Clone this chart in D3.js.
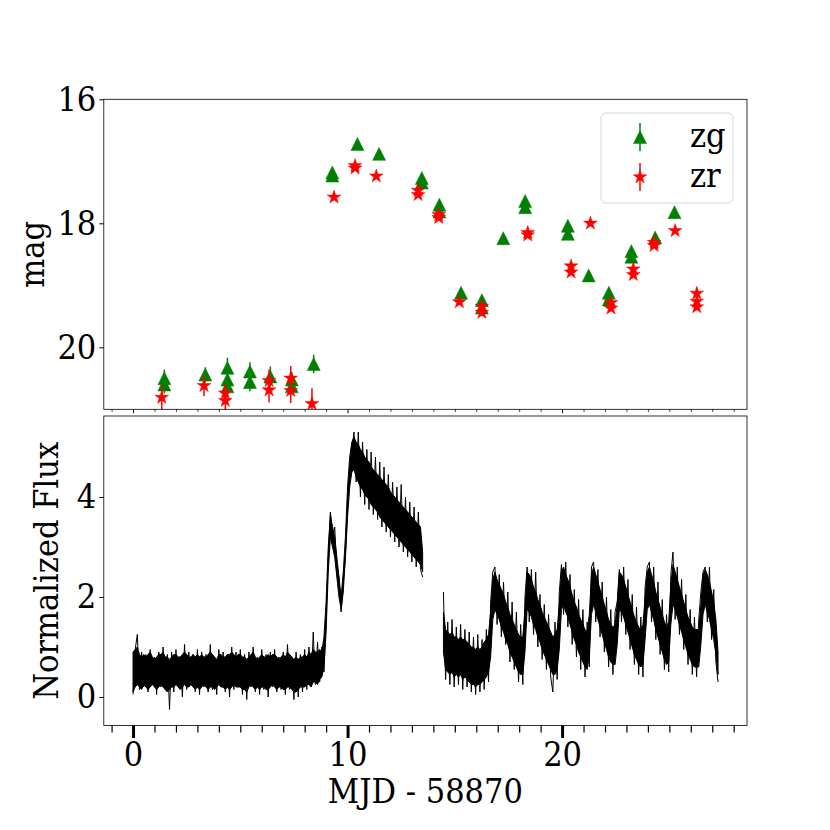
<!DOCTYPE html>
<html>
<head>
<meta charset="utf-8">
<script src="https://cdn.jsdelivr.net/npm/d3@7"></script>
<style>
body { margin: 0; background: #fff; }
text { font-family: "DejaVu Serif Condensed", "DejaVu Serif", serif; font-stretch: condensed; fill: #000; }
</style>
</head>
<body>
<script>
// ZTF photometry (MJD - 58870)
var zgTime = [1.46, 1.46, 3.37, 4.40, 4.40, 4.40, 5.45, 5.45, 6.40, 7.40, 7.40, 8.42,
    9.29, 9.29, 10.46, 11.47, 13.46, 13.46, 14.28, 14.28, 15.29, 16.26, 16.26, 17.26,
    18.28, 18.28, 20.27, 20.27, 21.24, 22.18, 22.18, 23.23, 23.23, 24.34, 25.24];
var zgMag = [20.50, 20.60, 20.44, 20.33, 20.52, 20.63, 20.39, 20.56, 20.47, 20.52, 20.63, 20.27,
    17.18, 17.23, 16.72, 16.88, 17.27, 17.34, 17.70, 17.81, 19.12, 19.24, 19.36, 18.24,
    17.64, 17.74, 18.04, 18.17, 18.84, 19.12, 19.23, 18.45, 18.54, 18.23, 17.82];
var zgErr = [0.14, 0.14, 0.12, 0.16, 0.14, 0.14, 0.15, 0.15, 0.16, 0.12, 0.12, 0.15,
    0.03, 0.03, 0.02, 0.02, 0.03, 0.03, 0.03, 0.03, 0.04, 0.04, 0.04, 0.03,
    0.03, 0.03, 0.03, 0.03, 0.03, 0.04, 0.04, 0.03, 0.03, 0.03, 0.03];

var zrTime = [1.34, 3.31, 4.30, 4.30, 6.34, 6.34, 7.35, 7.35, 8.34, 9.37, 10.35, 10.35,
    11.34, 13.29, 13.29, 14.25, 14.25, 15.21, 16.26, 16.26, 18.40, 18.40, 20.42, 20.42,
    21.32, 22.28, 22.28, 23.32, 23.32, 24.29, 24.29, 25.27, 26.28, 26.28, 26.28];
var zrMag = [20.81, 20.62, 20.74, 20.86, 20.54, 20.69, 20.50, 20.70, 20.91, 17.58, 17.07, 17.11,
    17.24, 17.47, 17.54, 17.86, 17.91, 19.27, 19.34, 19.44, 18.15, 18.19, 18.69, 18.79,
    18.00, 19.28, 19.37, 18.74, 18.83, 18.31, 18.36, 18.12, 19.13, 19.26, 19.35];
var zrErr = [0.2, 0.17, 0.15, 0.18, 0.18, 0.2, 0.2, 0.2, 0.25, 0.03, 0.02, 0.02,
    0.02, 0.03, 0.03, 0.03, 0.03, 0.04, 0.05, 0.05, 0.03, 0.03, 0.04, 0.04,
    0.03, 0.05, 0.05, 0.04, 0.04, 0.03, 0.03, 0.03, 0.05, 0.05, 0.05];

// TESS normalized flux, one reading every 0.1 d, two orbits.
// tessFlux: individual readings (spiky), tessLo/tessHi: dense core of the scatter
var tessStep = 0.1;
var tessStart1 = 0;
var tessFlux1 = [
    0.05, 0.95, 1.25, 0.15, 0.9, 0.2, 0.85, 0.1, 0.95, 0.25,
    0.8, 0.05, 0.9, 0.2, 1.0, 0.15, 0.85, -0.25, 0.9, 0.1,
    0.95, 0.2, 0.8, 0.0, 1.05, 0.15, 0.9, 0.25, 0.85, 0.1,
    0.95, 0.05, 0.9, 0.2, 0.85, 0.1, 1.05, 0.15, 0.8, 0.05,
    0.95, 0.2, 0.9, 0.1, 0.85, 0.0, 1.0, 0.15, 0.9, 0.2,
    0.95, 0.05, 0.85, -0.05, 0.9, 0.2, 1.0, 0.1, 0.8, 0.05,
    0.95, 0.15, 0.85, 0.0, 0.9, 0.2, 0.95, 0.1, 0.8, 0.15,
    0.9, 0.05, 1.05, 0.15, 0.8, -0.05, 0.9, 0.0, 0.85, 0.1,
    0.95, 0.15, 1.0, 0.2, 1.3, 0.25, 1.1, 0.3, 1.0, 0.5,
    1.6, 2.8, 3.7, 3.1, 3.4, 2.5, 2.4, 1.7, 2.3, 2.8,
    3.8, 4.5, 4.9, 5.3, 4.3, 5.3, 4.0, 5.1, 3.85, 4.95,
    3.75, 4.9, 3.65, 4.8, 3.55, 4.7, 3.4, 4.6, 3.3, 4.45,
    3.2, 4.3, 3.1, 4.2, 3.0, 4.25, 2.9, 4.0, 2.8, 3.9,
    2.7, 3.8, 2.6, 3.7, 2.55, 2.4];
var tessLo1 = [
    0.1, 0.2, 0.25, 0.2, 0.15, 0.25, 0.2, 0.15, 0.2, 0.25,
    0.2, 0.15, 0.2, 0.25, 0.2, 0.15, 0.1, 0.15, 0.2, 0.2,
    0.25, 0.2, 0.15, 0.2, 0.25, 0.2, 0.2, 0.25, 0.2, 0.15,
    0.2, 0.15, 0.2, 0.25, 0.2, 0.15, 0.2, 0.2, 0.15, 0.2,
    0.25, 0.2, 0.2, 0.15, 0.2, 0.15, 0.2, 0.25, 0.2, 0.2,
    0.2, 0.15, 0.15, 0.1, 0.2, 0.25, 0.2, 0.15, 0.2, 0.15,
    0.2, 0.2, 0.15, 0.15, 0.2, 0.25, 0.2, 0.15, 0.2, 0.2,
    0.15, 0.15, 0.2, 0.2, 0.15, 0.1, 0.1, 0.15, 0.2, 0.2,
    0.2, 0.25, 0.25, 0.2, 0.3, 0.3, 0.25, 0.35, 0.4, 0.6,
    1.3, 2.5, 3.2, 3.0, 2.8, 2.4, 2.0, 1.75, 2.1, 2.8,
    3.6, 4.2, 4.5, 4.55, 4.4, 4.3, 4.2, 4.15, 4.05, 4.0,
    3.95, 3.85, 3.8, 3.75, 3.7, 3.6, 3.55, 3.5, 3.45, 3.4,
    3.35, 3.3, 3.25, 3.2, 3.15, 3.1, 3.05, 3.0, 2.95, 2.9,
    2.85, 2.8, 2.75, 2.7, 2.65, 2.5];
var tessHi1 = [
    0.9, 0.95, 1.0, 0.85, 0.8, 0.85, 0.8, 0.85, 0.9, 0.8,
    0.75, 0.8, 0.85, 0.85, 0.9, 0.8, 0.8, 0.75, 0.8, 0.85,
    0.85, 0.8, 0.8, 0.85, 0.9, 0.85, 0.8, 0.8, 0.85, 0.8,
    0.85, 0.8, 0.85, 0.8, 0.8, 0.85, 0.9, 0.85, 0.8, 0.75,
    0.85, 0.85, 0.8, 0.8, 0.85, 0.85, 0.9, 0.85, 0.8, 0.85,
    0.85, 0.8, 0.8, 0.75, 0.8, 0.85, 0.9, 0.8, 0.75, 0.8,
    0.85, 0.8, 0.8, 0.85, 0.8, 0.85, 0.85, 0.8, 0.75, 0.8,
    0.85, 0.8, 0.9, 0.85, 0.8, 0.75, 0.8, 0.75, 0.8, 0.8,
    0.85, 0.8, 0.9, 0.85, 0.95, 0.9, 0.9, 0.95, 0.9, 1.2,
    1.9, 3.0, 3.65, 3.4, 3.2, 2.8, 2.4, 2.0, 2.5, 3.2,
    4.2, 4.8, 5.1, 5.2, 5.1, 5.05, 4.95, 4.9, 4.8, 4.75,
    4.7, 4.6, 4.55, 4.5, 4.45, 4.4, 4.35, 4.3, 4.25, 4.2,
    4.1, 4.05, 4.0, 3.95, 3.9, 3.85, 3.8, 3.75, 3.7, 3.65,
    3.6, 3.55, 3.5, 3.45, 3.4, 2.9];

var tessStart2 = 14.47;
var tessFlux2 = [
    2.1, 0.35, 1.5, 0.25, 1.55, 0.2, 1.4, 0.25, 1.45, 0.15,
    1.35, 0.2, 1.3, 0.1, 1.2, 0.05, 1.25, 0.1, 1.15, 0.15,
    1.35, 0.3, 1.9, 2.5, 2.6, 1.45, 2.45, 1.2, 2.3, 1.05,
    2.1, 0.7, 1.9, 0.55, 1.7, 0.3, 1.45, 0.25, 2.0, 2.6,
    1.5, 2.55, 1.25, 2.5, 1.0, 2.05, 0.75, 1.85, 0.55, 1.65,
    0.4, 0.1, 1.5, 0.35, 2.1, 2.65, 1.65, 2.7, 1.4, 2.45,
    1.05, 2.15, 0.8, 1.95, 0.55, 1.75, 0.4, 1.5, 0.6, 2.6,
    2.7, 1.5, 2.55, 1.2, 2.3, 0.9, 2.0, 0.6, 1.75, 0.45,
    1.7, 1.9, 2.55, 1.5, 2.6, 1.25, 2.35, 0.95, 2.05, 0.65,
    1.8, 0.45, 1.6, 0.4, 2.2, 2.6, 2.7, 1.5, 2.6, 1.15,
    2.3, 0.85, 1.95, 0.55, 1.65, 0.5, 2.45, 2.9, 1.55, 2.6,
    1.25, 2.35, 0.95, 2.05, 0.65, 1.75, 0.45, 1.6, 0.4, 1.55,
    2.1, 2.5, 2.6, 1.5, 2.6, 1.15, 2.15, 0.7, 0.3];
var tessLo2 = [
    0.9, 0.55, 0.5, 0.45, 0.5, 0.4, 0.45, 0.4, 0.45, 0.35,
    0.4, 0.35, 0.3, 0.25, 0.25, 0.2, 0.25, 0.25, 0.3, 0.35,
    0.4, 0.5, 0.8, 1.55, 1.75, 1.65, 1.55, 1.4, 1.3, 1.15,
    1.05, 0.9, 0.8, 0.7, 0.6, 0.5, 0.45, 0.45, 0.9, 1.75,
    1.7, 1.6, 1.45, 1.35, 1.2, 1.1, 0.95, 0.85, 0.75, 0.65,
    0.55, 0.45, 0.45, 0.55, 0.95, 1.75, 1.85, 1.7, 1.6, 1.45,
    1.3, 1.15, 1.05, 0.9, 0.8, 0.7, 0.6, 0.55, 0.85, 1.65,
    1.85, 1.7, 1.55, 1.4, 1.25, 1.1, 0.95, 0.8, 0.7, 0.65,
    0.65, 1.05, 1.75, 1.7, 1.6, 1.45, 1.3, 1.15, 1.0, 0.85,
    0.75, 0.65, 0.6, 0.65, 1.15, 1.75, 1.85, 1.7, 1.55, 1.35,
    1.2, 1.05, 0.9, 0.75, 0.65, 0.7, 1.45, 1.85, 1.75, 1.6,
    1.45, 1.3, 1.15, 1.0, 0.85, 0.75, 0.65, 0.6, 0.6, 0.6,
    1.05, 1.65, 1.85, 1.7, 1.55, 1.35, 1.15, 0.85, 0.45];
var tessHi2 = [
    1.7, 1.35, 1.3, 1.25, 1.3, 1.2, 1.2, 1.15, 1.2, 1.15,
    1.15, 1.1, 1.05, 1.0, 1.0, 0.95, 1.0, 0.95, 1.0, 1.1,
    1.15, 1.25, 1.7, 2.35, 2.5, 2.35, 2.25, 2.15, 2.05, 1.9,
    1.8, 1.65, 1.55, 1.45, 1.35, 1.25, 1.2, 1.2, 1.75, 2.5,
    2.45, 2.35, 2.2, 2.1, 1.95, 1.85, 1.7, 1.6, 1.5, 1.4,
    1.3, 1.2, 1.25, 1.35, 1.85, 2.5, 2.6, 2.45, 2.35, 2.2,
    2.05, 1.9, 1.8, 1.65, 1.55, 1.45, 1.35, 1.3, 1.65, 2.45,
    2.6, 2.45, 2.3, 2.15, 2.0, 1.85, 1.7, 1.55, 1.45, 1.4,
    1.45, 1.85, 2.5, 2.45, 2.35, 2.2, 2.05, 1.9, 1.75, 1.6,
    1.5, 1.4, 1.35, 1.45, 2.0, 2.5, 2.6, 2.45, 2.3, 2.1,
    1.95, 1.8, 1.65, 1.5, 1.4, 1.5, 2.25, 2.65, 2.5, 2.35,
    2.2, 2.05, 1.9, 1.75, 1.6, 1.5, 1.4, 1.35, 1.35, 1.35,
    1.85, 2.45, 2.55, 2.45, 2.3, 2.1, 1.9, 1.55, 0.9];

var xMajorTicks = [0, 10, 20];
var xMinorTicks = [-1, 1, 2, 3, 4, 5, 6, 7, 8, 9, 11, 12, 13, 14, 15, 16, 17, 18, 19,
    21, 22, 23, 24, 25, 26, 27, 28];
var magTicks = [16, 18, 20];
var fluxTicks = [0, 2, 4];
var bands = ["zg", "zr"];

// layout
var width = 830;
var height = 830;
var left = 103.8, right = 747;
var top1 = 99.3, bot1 = 409.3;
var top2 = 416, bot2 = 725.5;
var fontSize = "34px";

var svg = d3.select("body")
    .append("svg")
    .attr("width", width)
    .attr("height", height);

var x = d3.scaleLinear().domain([-1.363, 28.62]).range([left, right]);
var yMag = d3.scaleLinear().domain([16, 21.0]).range([top1, bot1]);
var yFlux = d3.scaleLinear().domain([-0.57, 5.62]).range([bot2, top2]);

var defs = svg.append("defs");
defs.append("clipPath").attr("id", "clipTop")
    .append("rect").attr("x", left).attr("y", top1)
    .attr("width", right - left).attr("height", bot1 - top1);
defs.append("clipPath").attr("id", "clipBot")
    .append("rect").attr("x", left).attr("y", top2)
    .attr("width", right - left).attr("height", bot2 - top2);

// matplotlib style markers
var triangle = {
    draw: function(ctx, size) {
        var h = Math.sqrt(size) / 2;
        ctx.moveTo(0, -h);
        ctx.lineTo(h, h);
        ctx.lineTo(-h, h);
        ctx.closePath();
    }
};
var triPath = d3.symbol().type(triangle).size(169)();
var starPath = d3.symbol().type(d3.symbolStar).size(58)();

function styleAxis(g, width) {
    g.select(".domain").remove();
    g.selectAll(".tick line").attr("stroke", "#000").attr("stroke-width", width);
    g.selectAll(".tick text").style("font-size", fontSize);
}

// ---------- top panel: ZTF ----------
var topPlot = svg.append("g").attr("clip-path", "url(#clipTop)");

function drawBand(time, mag, err, color, path) {
    var g = topPlot.append("g");
    g.selectAll("line")
        .data(time)
        .enter()
        .append("line")
        .attr("x1", d => x(d))
        .attr("x2", d => x(d))
        .attr("y1", (d, i) => yMag(mag[i] - err[i]))
        .attr("y2", (d, i) => yMag(mag[i] + err[i]))
        .attr("stroke", color)
        .attr("stroke-width", 1.5);
    g.selectAll("path")
        .data(time)
        .enter()
        .append("path")
        .attr("d", path)
        .attr("transform", (d, i) => "translate(" + x(d) + "," + yMag(mag[i]) + ")")
        .attr("fill", color)
        .attr("stroke", color)
        .attr("stroke-width", 0.5);
}
drawBand(zgTime, zgMag, zgErr, "green", triPath);
drawBand(zrTime, zrMag, zrErr, "red", starPath);

svg.append("g")
    .attr("transform", "translate(" + left + ",0)")
    .call(d3.axisLeft(yMag).tickValues(magTicks).tickSize(4.5).tickPadding(3).tickFormat(d3.format("d")))
    .call(g => styleAxis(g, 1));

svg.append("g")
    .attr("transform", "translate(0," + bot1 + ")")
    .call(d3.axisBottom(x).tickValues(xMajorTicks).tickSize(4).tickFormat(""))
    .call(g => styleAxis(g, 1));
svg.append("g")
    .attr("transform", "translate(0," + bot1 + ")")
    .call(d3.axisBottom(x).tickValues(xMinorTicks).tickSize(2.5).tickFormat(""))
    .call(g => styleAxis(g, 0.8));

svg.append("rect")
    .attr("x", left).attr("y", top1)
    .attr("width", right - left).attr("height", bot1 - top1)
    .attr("fill", "none").attr("stroke", "#000").attr("stroke-width", 0.8);

// legend
var legend = svg.append("g").attr("transform", "translate(601,113)");
legend.append("rect")
    .attr("width", 132).attr("height", 90).attr("rx", 5)
    .attr("fill", "#fff").attr("fill-opacity", 0.8)
    .attr("stroke", "#d6d6d6").attr("stroke-width", 1);
var legendColors = ["green", "red"];
var legendPaths = [triPath, starPath];
var item = legend.selectAll("g.item")
    .data(bands)
    .enter()
    .append("g")
    .attr("class", "item")
    .attr("transform", (d, i) => "translate(0," + (24 + i * 40) + ")");
item.append("line")
    .attr("x1", 39).attr("x2", 39).attr("y1", -14).attr("y2", 14)
    .attr("stroke", (d, i) => legendColors[i]).attr("stroke-width", 1.5);
item.append("path")
    .attr("d", (d, i) => legendPaths[i])
    .attr("transform", "translate(39,0)")
    .attr("fill", (d, i) => legendColors[i])
    .attr("stroke", (d, i) => legendColors[i]).attr("stroke-width", 0.5);
item.append("text")
    .attr("x", 89).attr("y", 9.5)
    .style("font-size", fontSize)
    .text(d => d);

svg.append("text")
    .attr("transform", "translate(44," + ((top1 + bot1) / 2) + ") rotate(-90)")
    .attr("text-anchor", "middle")
    .style("font-size", fontSize)
    .text("mag");

// ---------- bottom panel: TESS ----------
var botPlot = svg.append("g").attr("clip-path", "url(#clipBot)");
var line = d3.line()
    .x(d => x(d.t))
    .y(d => yFlux(d.f));
var area = d3.area()
    .x(d => x(d.t))
    .y0(d => yFlux(d.lo))
    .y1(d => yFlux(d.hi));

function segment(start, flux, lo, hi) {
    return flux.map((f, i) => ({ t: start + i * tessStep, f: f, lo: lo[i], hi: hi[i] }));
}
[segment(tessStart1, tessFlux1, tessLo1, tessHi1),
 segment(tessStart2, tessFlux2, tessLo2, tessHi2)].forEach(function(seg) {
    botPlot.append("path")
        .datum(seg)
        .attr("d", area)
        .attr("fill", "#000")
        .attr("stroke", "#000")
        .attr("stroke-width", 1);
    botPlot.append("path")
        .datum(seg)
        .attr("d", line)
        .attr("fill", "none")
        .attr("stroke", "#000")
        .attr("stroke-width", 1);
});

svg.append("g")
    .attr("transform", "translate(" + left + ",0)")
    .call(d3.axisLeft(yFlux).tickValues(fluxTicks).tickSize(4.5).tickPadding(3).tickFormat(d3.format("d")))
    .call(g => styleAxis(g, 1));

svg.append("g")
    .attr("transform", "translate(0," + bot2 + ")")
    .call(d3.axisBottom(x).tickValues(xMinorTicks).tickSize(7).tickFormat(""))
    .call(g => styleAxis(g, 1.2));
svg.append("g")
    .attr("transform", "translate(0," + bot2 + ")")
    .call(d3.axisBottom(x).tickValues(xMajorTicks).tickSize(12.5).tickPadding(4).tickFormat(d3.format("d")))
    .call(g => styleAxis(g, 3));

svg.append("rect")
    .attr("x", left).attr("y", top2)
    .attr("width", right - left).attr("height", bot2 - top2)
    .attr("fill", "none").attr("stroke", "#000").attr("stroke-width", 0.8);

svg.append("text")
    .attr("transform", "translate(58," + ((top2 + bot2) / 2) + ") rotate(-90)")
    .attr("text-anchor", "middle")
    .style("font-size", fontSize)
    .text("Normalized Flux");

svg.append("text")
    .attr("x", (left + right) / 2)
    .attr("y", 803)
    .attr("text-anchor", "middle")
    .style("font-size", fontSize)
    .text("MJD - 58870");
</script>
</body>
</html>
